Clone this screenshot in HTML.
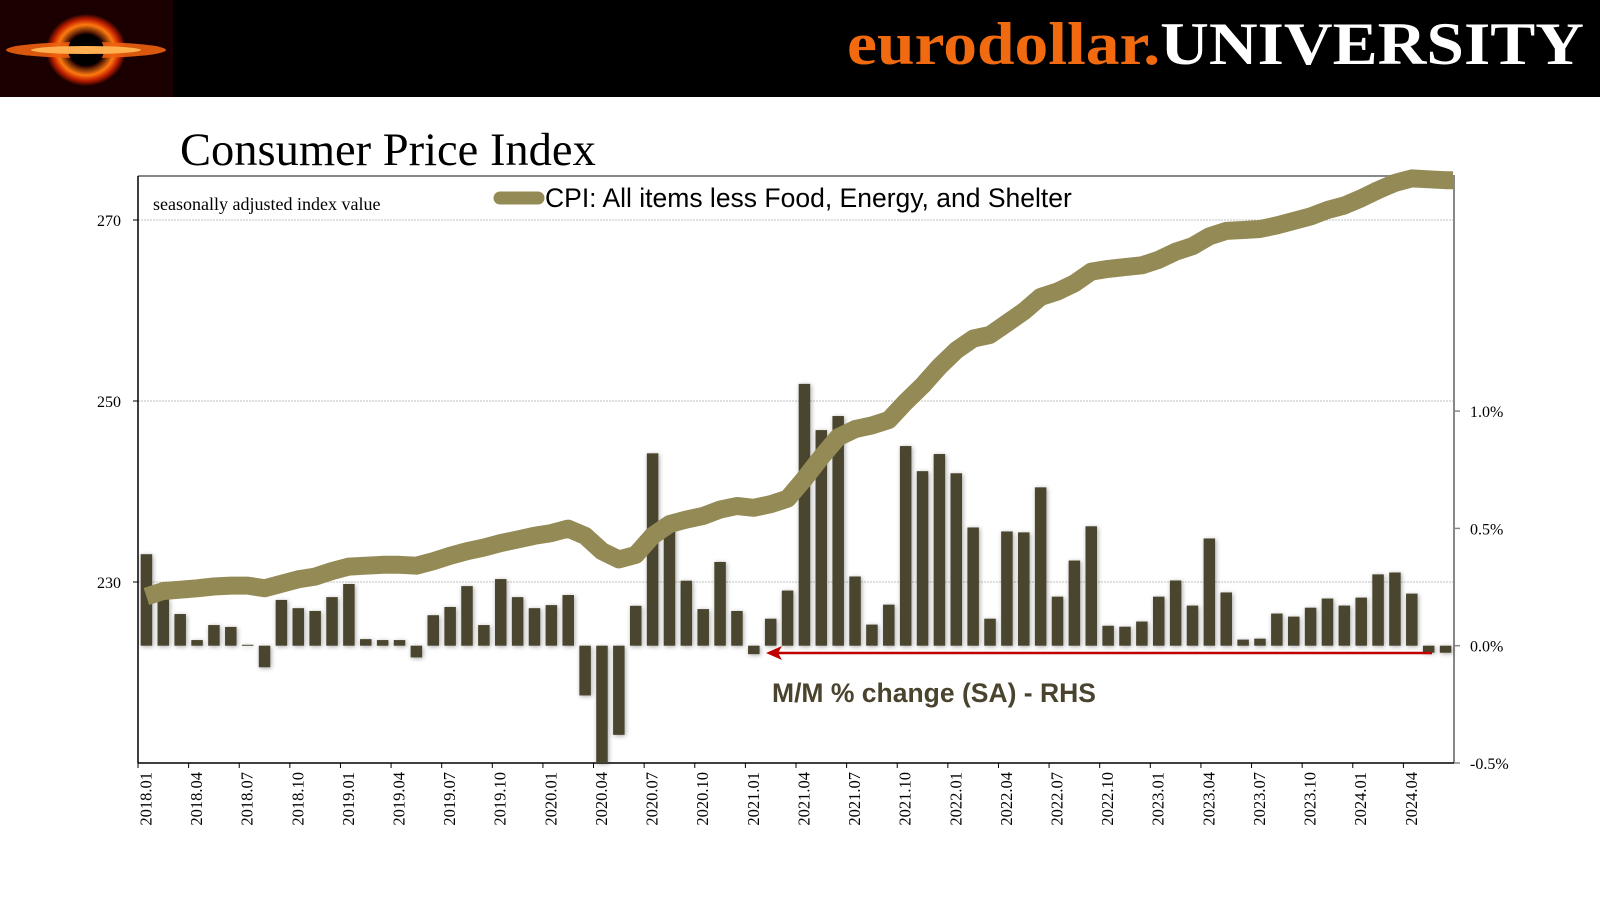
<!DOCTYPE html>
<html><head><meta charset="utf-8"><style>
html,body{margin:0;padding:0;background:#fff;}
svg{display:block;}
</style></head><body>
<svg width="1600" height="900" viewBox="0 0 1600 900" xmlns="http://www.w3.org/2000/svg">
<defs>
<radialGradient id="glow" cx="50%" cy="50%" r="50%">
<stop offset="0%" stop-color="#000"/><stop offset="45%" stop-color="#200"/><stop offset="70%" stop-color="#ff7a10"/><stop offset="85%" stop-color="#c02000"/><stop offset="100%" stop-color="#200000"/>
</radialGradient>
<filter id="shadow" x="-50%" y="-20%" width="200%" height="140%"><feDropShadow dx="1" dy="1" stdDeviation="2.5" flood-color="#000" flood-opacity="0.35"/></filter>
</defs>
<rect x="0" y="0" width="1600" height="97" fill="#000"/>
<g>
<rect x="0" y="0" width="173" height="97" fill="#1a0000"/>
<ellipse cx="86" cy="50" rx="40" ry="36" fill="url(#glow)"/>
<ellipse cx="86" cy="50" rx="80" ry="8" fill="#f06010" opacity="0.9"/>
<ellipse cx="86" cy="50" rx="18" ry="16" fill="#000"/>
<ellipse cx="86" cy="50" rx="55" ry="4" fill="#ffb050"/>
</g>
<text x="847" y="64" textLength="737" lengthAdjust="spacingAndGlyphs" font-family="Liberation Serif, serif" font-weight="bold" font-size="60"><tspan fill="#f26a10">eurodollar.</tspan><tspan fill="#fff">UNIVERSITY</tspan></text>
<text x="180" y="165" font-family="Liberation Serif, serif" font-size="46.5" fill="#000">Consumer Price Index</text>
<g id="plot"></g>
</svg>
<script>
const categories = (function(){const a=[];for(let y=2018;y<=2024;y++)for(let m=1;m<=12;m++){if(y===2024&&m>6)break;a.push(y+"."+String(m).padStart(2,"0"));}return a;})();
const mmChange = [0.39,0.20,0.135,0.024,0.088,0.08,0.004,-0.092,0.195,0.16,0.148,0.207,0.263,0.028,0.024,0.024,-0.05,0.13,0.165,0.254,0.088,0.284,0.207,0.16,0.173,0.216,-0.212,-0.5,-0.38,0.17,0.82,0.5,0.277,0.156,0.357,0.148,-0.036,0.115,0.235,1.116,0.919,0.979,0.295,0.09,0.175,0.851,0.744,0.817,0.735,0.504,0.115,0.487,0.483,0.675,0.209,0.363,0.509,0.085,0.081,0.103,0.209,0.278,0.171,0.457,0.227,0.026,0.03,0.137,0.124,0.162,0.201,0.171,0.205,0.304,0.312,0.222,-0.03,-0.03];
const cpiIndex = [228.4,229.0,229.15,229.3,229.5,229.6,229.6,229.3,229.8,230.3,230.6,231.2,231.7,231.8,231.9,231.9,231.8,232.3,232.9,233.4,233.8,234.3,234.7,235.1,235.4,235.9,235.1,233.4,232.5,233.0,235.1,236.4,236.9,237.3,238.0,238.4,238.2,238.6,239.2,241.4,243.8,246.0,246.9,247.3,247.9,249.9,251.7,253.8,255.6,256.9,257.3,258.6,259.9,261.5,262.1,263.0,264.3,264.6,264.8,265.0,265.6,266.5,267.1,268.2,268.8,268.9,269.0,269.4,269.9,270.4,271.1,271.6,272.4,273.3,274.1,274.6,274.5,274.4];
const leftTicks = [230,250,270];
const rightTicks = [-0.5,0,0.5,1.0];
const rightTickLabels = ["-0.5%","0.0%","0.5%","1.0%"];

const NS="http://www.w3.org/2000/svg";
const L=138,R=1454,T=176,B=763;
const band=(R-L)/categories.length;
const xC=i=>L+band*(i+0.5);
const yL=v=>B-(v-210)/20*181;
const yR=v=>645.7-v*234.6;
const plot=document.getElementById('plot');
function mk(tag,attrs,parent){const e=document.createElementNS(NS,tag);for(const k in attrs)e.setAttribute(k,attrs[k]);(parent||plot).appendChild(e);return e;}

leftTicks.forEach(v=>{
  const g=mk('line',{x1:L,x2:R,y1:yL(v),y2:yL(v),stroke:'#aaa','stroke-width':0.8,'stroke-dasharray':'2,1'});
  
  
  const t=mk('text',{x:121,y:yL(v)+6,'text-anchor':'end','font-family':'Liberation Serif, serif','font-size':16,fill:'#000'});
  t.textContent=v;
  
  
  mk('line',{x1:L-5,x2:L,y1:yL(v),y2:yL(v),stroke:'#000','stroke-width':1});
});
const fr=mk('path',{d:`M${L},${T} H${R} V${B}`,fill:'none',stroke:'#888','stroke-width':2});


const la=mk('line',{x1:L,x2:L,y1:T,y2:B,stroke:'#000','stroke-width':1.5});


const ba=mk('line',{x1:L,x2:R,y1:B,y2:B,stroke:'#000','stroke-width':1.5});



rightTicks.forEach((v,i)=>{
  mk('line',{x1:R,x2:R+6,y1:yR(v),y2:yR(v),stroke:'#888','stroke-width':1.5});
  const t=mk('text',{x:R+16,y:yR(v)+6,'font-family':'Liberation Serif, serif','font-size':16,fill:'#000'});
  t.textContent=rightTickLabels[i];
  
  
});

const bw=11.5;
const bg=mk('g',{filter:'url(#shadow)'});
mmChange.forEach((v,i)=>{
  const y0=yR(0),y1=yR(v);
  const r=mk('rect',{x:xC(i)-bw/2,y:Math.min(y0,y1),width:bw,height:Math.max(1,Math.abs(y1-y0)),fill:'#4a442e'},bg);
  
  
});

let d='';
cpiIndex.forEach((v,i)=>{d+=(i?'L':'M')+xC(i).toFixed(1)+','+yL(v).toFixed(1);});
d+='L'+(R-1)+','+yL(cpiIndex[cpiIndex.length-1]).toFixed(1);
const ln=mk('path',{d:d,fill:'none',stroke:'#948a55','stroke-width':18,'stroke-linejoin':'round'});



categories.forEach((c,i)=>{
  if(i%3!==0)return;
  mk('line',{x1:L+band*i,x2:L+band*i,y1:B,y2:B+5,stroke:'#000','stroke-width':1});
  const t=mk('text',{x:0,y:0,'text-anchor':'end','font-family':'Liberation Serif, serif','font-size':16.5,fill:'#000',transform:`translate(${xC(i)+5},${B+9}) rotate(-90)`});
  t.textContent=c;
  
  
});

const st=mk('text',{x:153,y:210,'font-family':'Liberation Serif, serif','font-size':18,fill:'#000'});
st.textContent='seasonally adjusted index value';


const lgs=mk('line',{x1:500,x2:538,y1:198,y2:198,stroke:'#948a55','stroke-width':13,'stroke-linecap':'round'});


const lgt=mk('text',{x:545,y:207,'font-family':'Liberation Sans, sans-serif','font-size':26.5,fill:'#000'});
lgt.textContent='CPI: All items less Food, Energy, and Shelter';


const ar=mk('line',{x1:776,x2:1432,y1:653,y2:653,stroke:'#c00000','stroke-width':2.5});


mk('path',{d:'M766,653 L782,646 L778,653 L782,660 Z',fill:'#c00000'});
const an=mk('text',{x:772,y:702,'font-family':'Liberation Sans, sans-serif','font-size':26.5,'font-weight':'bold',fill:'#4a442e'});
an.textContent='M/M % change (SA) - RHS';


</script>
</body></html>
